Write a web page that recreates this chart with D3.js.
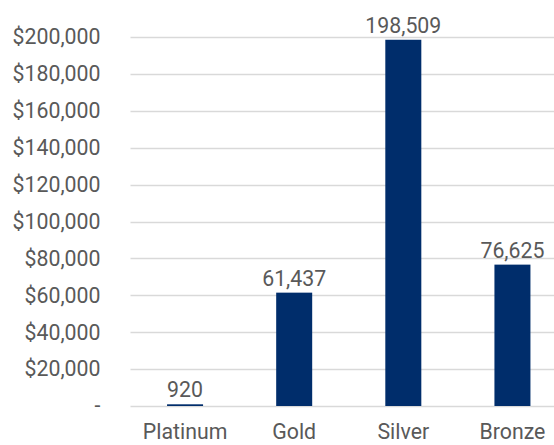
<!DOCTYPE html>
<html>
<head>
<meta charset="utf-8">
<script src="https://cdn.jsdelivr.net/npm/d3@7"></script>
<style>
  html, body { margin: 0; padding: 0; background: #fff; }
  svg { display: block; }
  text { font-family: Roboto, "Noto Sans", sans-serif; fill: #595959; }
</style>
</head>
<body>
<svg id="chart" width="554" height="445"></svg>
<script>
// Sales by tier
const categories = ["Platinum", "Gold", "Silver", "Bronze"];
const values = [920, 61437, 198509, 76625];
const yTicks = [0, 20000, 40000, 60000, 80000, 100000, 120000, 140000, 160000, 180000, 200000];

const svg = d3.select("#chart");
const margin = { left: 130.5, right: -13, top: 37, bottom: 39 };
const W = 554, H = 445;
const fontSize = 21.3;

const x = d3.scaleBand()
  .domain(categories)
  .range([margin.left, W - margin.right])
  .padding(0);

const y = d3.scaleLinear()
  .domain([0, 200000])
  .range([H - margin.bottom, margin.top]);

const fmtTick = v => v === 0 ? "-" : "$" + d3.format(",")(v);

// Horizontal gridlines
svg.append("g")
  .selectAll("line")
  .data(yTicks)
  .join("line")
  .attr("x1", margin.left)
  .attr("x2", W)
  .attr("y1", d => Math.round(y(d)) + 0.5)
  .attr("y2", d => Math.round(y(d)) + 0.5)
  .attr("stroke", "#d9d9d9")
  .attr("stroke-width", 1.5);

// Y axis labels
const yAxis = d3.axisLeft(y).tickValues(yTicks).tickFormat(fmtTick).tickSize(0).tickPadding(0);
const gy = svg.append("g")
  .attr("transform", `translate(${margin.left - 30},0)`)
  .call(yAxis);
gy.select(".domain").remove();
gy.selectAll("text")
  .attr("font-size", fontSize)
  .attr("font-family", "Roboto, sans-serif")
  .attr("fill", "#595959");

// Bars
const barW = x.bandwidth() * 0.33;
svg.append("g")
  .selectAll("rect")
  .data(categories.map((c, i) => ({ c, v: values[i] })))
  .join("rect")
  .attr("x", d => x(d.c) + x.bandwidth() / 2 - barW / 2)
  .attr("width", barW)
  .attr("y", d => y(d.v))
  .attr("height", d => y(0) - y(d.v))
  .attr("fill", "#002D6B");

// Value labels
svg.append("g")
  .selectAll("text")
  .data(categories.map((c, i) => ({ c, v: values[i] })))
  .join("text")
  .attr("x", d => x(d.c) + x.bandwidth() / 2)
  .attr("y", d => y(d.v) - 7)
  .attr("text-anchor", "middle")
  .attr("font-size", fontSize)
  .text(d => d3.format(",")(d.v));

// Category labels
const xAxis = d3.axisBottom(x).tickSize(0).tickPadding(0);
const gx = svg.append("g")
  .attr("transform", `translate(0,${H - margin.bottom + 33})`)
  .call(xAxis);
gx.select(".domain").remove();
gx.selectAll("text")
  .attr("font-size", fontSize)
  .attr("font-family", "Roboto, sans-serif")
  .attr("fill", "#595959")
  .attr("dy", 0);
</script>
</body>
</html>
